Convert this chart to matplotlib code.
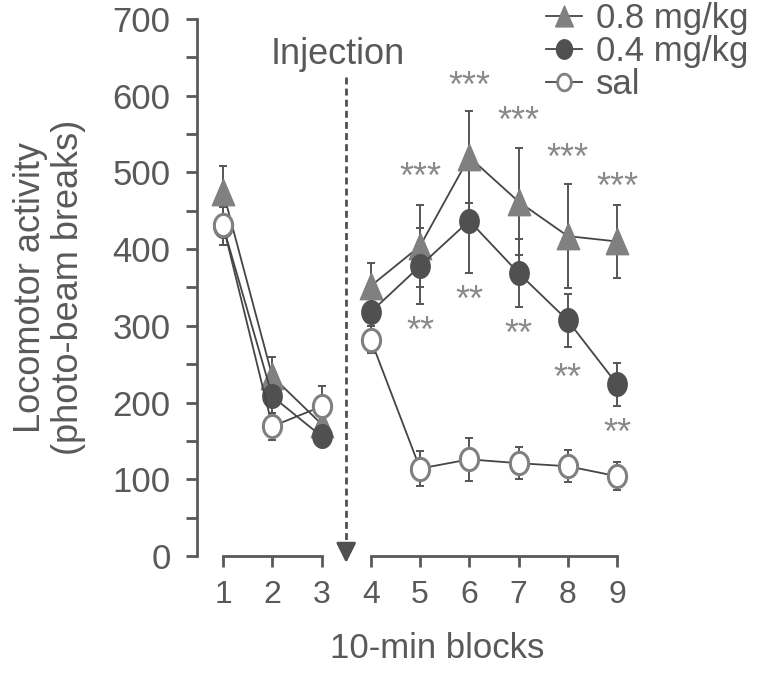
import matplotlib
matplotlib.use("Agg")
import matplotlib.pyplot as plt
import numpy as np
from matplotlib.path import Path
from matplotlib.lines import Line2D

plt.rcParams['font.family'] = ['Liberation Sans', 'DejaVu Sans']

# donnees
blocks = [1, 2, 3, 4, 5, 6, 7, 8, 9]
pre = 3  # les 3 premiers blocs avant injection

high = [475, 234, 172, 352, 404, 520, 462, 417, 410]      # 0.8 mg/kg
high_err = [33, 26, 20, 30, 53, 60, 70, 68, 47]
mid = [430, 208, 156, 318, 378, 437, 369, 307, 224]       # 0.4 mg/kg
mid_err = [25, 22, 10, 18, 49, 68, 44, 34, 28]
sal = [431, 169, 195, 282, 114, 126, 121, 117, 104]       # sal
sal_err = [25, 18, 26, 18, 23, 28, 21, 21, 18]

star3_blocks = [5, 6, 7, 8, 9]
star3_y = [501, 619, 574, 526, 488]
star2_blocks = [5, 6, 7, 8, 9]
star2_y = [300, 341, 296, 239, 167]

labels = ['0.8 mg/kg', '0.4 mg/kg', 'sal']

txt = '#595959'
ax_col = '#595959'
line_col = '#454545'

# marqueurs un peu etires verticalement comme sur l'original
t = np.linspace(0, 2 * np.pi, 60)
ellipse = Path(np.column_stack([0.82 * np.cos(t), np.sin(t)]), closed=True)
tri = Path([(0, 1), (-0.85, -1), (0.85, -1), (0, 1)], closed=True)

fig = plt.figure(figsize=(7.58, 6.73), dpi=100)
ax = fig.add_axes([197 / 758, 117 / 673, (641.6 - 197) / 758, 537 / 673])

series = [
    (high, high_err, dict(marker=tri, ms=19, mfc='#808080', mec='#808080', mew=1)),
    (mid, mid_err, dict(marker=ellipse, ms=17, mfc='#505050', mec='#505050', mew=1)),
    (sal, sal_err, dict(marker=ellipse, ms=16, mfc='white', mec='#808080', mew=2.2)),
]

x = np.array(blocks)
for vals, errs, st in series:
    vals = np.array(vals)
    errs = np.array(errs)
    for sl in (slice(0, pre), slice(pre, None)):
        ax.errorbar(x[sl], vals[sl], yerr=errs[sl], fmt='none', ecolor='#555555',
                    elinewidth=1.4, capsize=3, capthick=1.4, zorder=2, clip_on=False)
        ax.plot(x[sl], vals[sl], color=line_col, lw=1.3, zorder=3, clip_on=False, **st)

for b, yv in zip(star3_blocks, star3_y):
    ax.text(b, yv - 21, '***', ha='center', va='baseline', fontsize=26, color='#8a8a8a')
for b, yv in zip(star2_blocks, star2_y):
    ax.text(b, yv - 21, '**', ha='center', va='baseline', fontsize=26, color='#8a8a8a')

# injection : ligne pointillee + tete de fleche pleine
ax.plot([3.5, 3.5], [625, 15], color='#505050', lw=2, ls=(0, (2.5, 1.5)), clip_on=False)
ax.annotate('', xy=(3.5, -9), xytext=(3.5, 16),
            arrowprops=dict(arrowstyle='-|>,head_width=0.3,head_length=0.6', mutation_scale=20,
                            color='#505050', lw=2, shrinkA=0, shrinkB=0),
            annotation_clip=False)
ax.text(3.33, 641, 'Injection', ha='center', va='baseline', fontsize=26, color=txt)

ax.set_xlim(0.47, 9.5)
ax.set_ylim(0, 700)
ax.set_xticks(blocks)
ax.set_yticks(range(0, 701, 100))
ax.set_yticks(range(50, 700, 100), minor=True)

for s in ('top', 'right'):
    ax.spines[s].set_visible(False)
ax.spines['left'].set_color(ax_col)
ax.spines['left'].set_linewidth(2)
ax.spines['bottom'].set_color(ax_col)
ax.spines['bottom'].set_linewidth(2)
ax.spines['bottom'].set_bounds(4, 9)
ax.plot([1, 3], [0, 0], color=ax_col, lw=2, clip_on=False, solid_capstyle='projecting')

ax.tick_params(axis='both', which='both', direction='out', color=ax_col, width=2,
               length=8, labelcolor=txt)
ax.tick_params(axis='y', labelsize=25, pad=11)
ax.tick_params(axis='x', labelsize=23, pad=9)

ax.set_xlabel('10-min blocks', fontsize=25, color=txt)
ax.xaxis.set_label_coords((437 - 197) / 444.6, -0.142)
ax.set_ylabel('Locomotor activity\n(photo-beam breaks)', fontsize=26, color=txt, linespacing=1.1)
ax.yaxis.set_label_coords((86 - 197) / 444.6, 0.5)

handles = [
    Line2D([], [], color=line_col, lw=1.3, marker=tri, ms=15, mfc='#808080', mec='#808080'),
    Line2D([], [], color=line_col, lw=1.3, marker=ellipse, ms=14, mfc='#505050', mec='#505050'),
    Line2D([], [], color=line_col, lw=1.3, marker=ellipse, ms=12, mfc='white', mec='#808080', mew=2),
]
leg = fig.legend(handles, labels, loc='upper left', bbox_to_anchor=(546 / 758, 0.997),
                 frameon=False, fontsize=25, handlelength=1.05, handletextpad=0.4,
                 labelspacing=0.0, borderpad=0, borderaxespad=0)
for tx in leg.get_texts():
    tx.set_color(txt)

fig.savefig('out.png', dpi=100)
